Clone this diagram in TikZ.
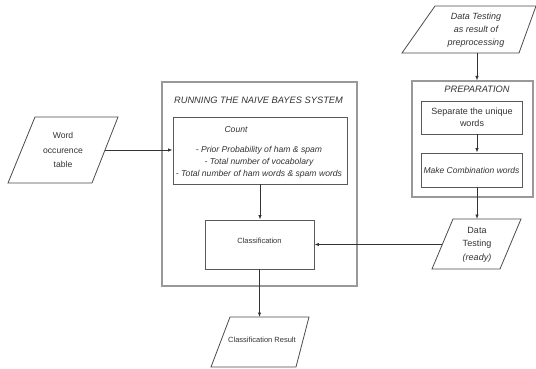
\documentclass[tikz,border=0pt]{standalone}
\usepackage{fontspec}
\setmainfont{Liberation Sans}
\usetikzlibrary{arrows.meta}
\tikzset{
  outerbox/.style={draw=black!40, line width=1.2pt},
  innerbox/.style={draw=black!65, line width=0.9pt},
  parabox/.style={draw=black!70, line width=0.8pt},
  arr/.style={draw=black!80, line width=0.8pt, -{Latex[length=4.5pt,width=3.5pt]}},
  txt/.style={text=black!80, inner sep=0pt, align=center, font=\fontsize{9.3}{13}\selectfont},
  smalltxt/.style={text=black!80, inner sep=0pt, align=center, font=\fontsize{8.6}{12}\selectfont\itshape},
}
\begin{document}
\begin{tikzpicture}[x=1pt,y=-1pt]
\useasboundingbox (0,0) rectangle (536,369);
\fill[white] (0,0) rectangle (536,369);

% boxes
\node[outerbox, minimum width=195pt, minimum height=204pt, inner sep=0pt] (run) at (259.5,184) {};
\node[innerbox, minimum width=174pt, minimum height=67pt, inner sep=0pt] (count) at (260,150.5) {};
\node[innerbox, minimum width=109pt, minimum height=49pt, inner sep=0pt] (class) at (259.5,244.5) {};
\node[outerbox, minimum width=121pt, minimum height=116pt, inner sep=0pt] (prep) at (472.5,139) {};
\node[innerbox, minimum width=101pt, minimum height=33pt, inner sep=0pt] (sep) at (471.5,117.5) {};
\node[innerbox, minimum width=101pt, minimum height=34pt, inner sep=0pt] (make) at (471.5,170) {};

% parallelograms
\draw[parabox] (35,117) -- (118,117) -- (92,183) -- (8,183) -- cycle;
\draw[parabox] (435,6) -- (536,6) -- (519,53) -- (402,53) -- cycle;
\draw[parabox] (453,219) -- (521,219) -- (500,269) -- (432,269) -- cycle;
\draw[parabox] (230,317) -- (309,317) -- (296,367) -- (211,367) -- cycle;

\coordinate (wordR) at (105,150);
\coordinate (dtopB) at (477,53);
\coordinate (readyT) at (477,219);
\coordinate (readyL) at (442,244.5);
\coordinate (resT) at (260,317);
\coordinate (axis) at (477,0);

% texts
\node[txt, font=\fontsize{9.3}{13}\selectfont\itshape] (runt) at (258.5,100) {RUNNING THE NAIVE BAYES SYSTEM};
\node[smalltxt] (countt) at (236,130) {Count};
\node[smalltxt] (countl) at (259,162) {- Prior Probability of ham \& spam\\- Total number of vocabolary\\- Total number of ham words \& spam words};
\node[txt, font=\fontsize{7.5}{9}\selectfont] (classt) at (259.5,241) {Classification};
\node[txt, font=\fontsize{7.5}{9}\selectfont] (rest) at (262,340) {Classification Result};
\node[txt, font=\fontsize{8.6}{14.5}\selectfont] (wordt) at (63,150) {Word\\occurence\\table};
\node[txt, font=\fontsize{9}{13}\selectfont\itshape] (dtopt) at (476,30) {Data Testing\\as result of\\preprocessing};
\node[txt, font=\fontsize{9.3}{13}\selectfont\itshape] (prept) at (477,89) {PREPARATION};
\node[txt, font=\fontsize{9}{12.5}\selectfont] (sept) at (472,117.5) {Separate the unique\\words};
\node[txt, font=\fontsize{8.5}{13}\selectfont\itshape] (maket) at (471.5,170) {Make Combination words};
\node[txt, font=\fontsize{9}{13.5}\selectfont] (readyt) at (477,244.5) {Data\\Testing\\{\itshape (ready)}};

% connectors
\draw[arr] (wordR) -- (wordR -| count.west);
\draw[arr] (count.south) -- (count.south |- class.north);
\draw[arr] (class.south) -- (class.south |- resT);
\draw[arr] (dtopB) -- (dtopB |- prep.north);
\draw[arr] (sep.south -| axis) -- (make.north -| axis);
\draw[arr] (make.south -| axis) -- (readyT);
\draw[arr] (readyL) -- (class.east);
\end{tikzpicture}
\end{document}
